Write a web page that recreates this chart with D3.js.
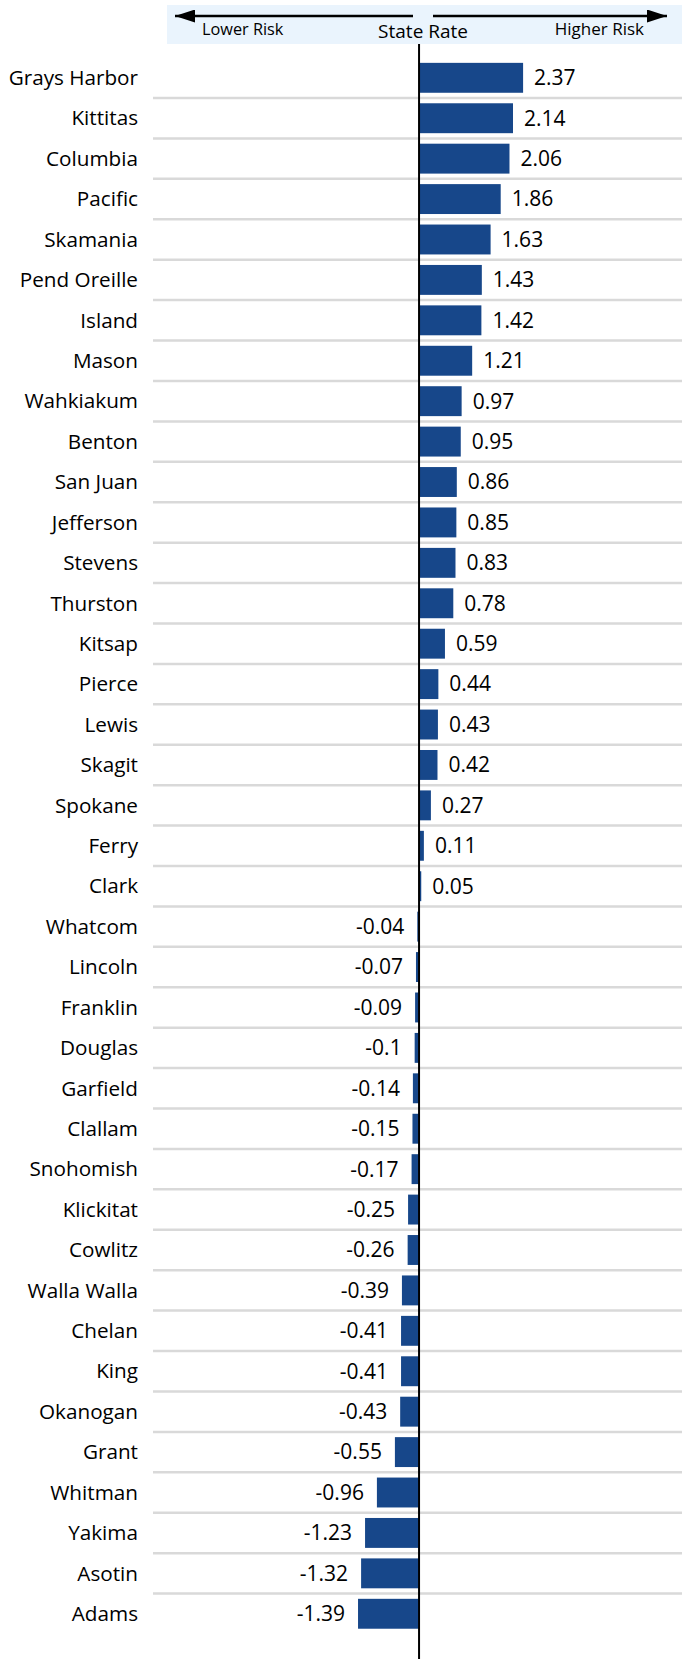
<!DOCTYPE html>
<html>
<head>
<meta charset="utf-8">
<script src="https://cdn.jsdelivr.net/npm/d3@7"></script>
<style>
  body { margin: 0; background: #fff; }
  text { font-family: "Open Sans", Lato, sans-serif; fill: #000; }
</style>
</head>
<body>
<div id="chart"></div>
<script>
// counties, top to bottom
const counties = [
  'Grays Harbor', 'Kittitas', 'Columbia', 'Pacific', 'Skamania', 'Pend Oreille',
  'Island', 'Mason', 'Wahkiakum', 'Benton', 'San Juan', 'Jefferson', 'Stevens',
  'Thurston', 'Kitsap', 'Pierce', 'Lewis', 'Skagit', 'Spokane', 'Ferry', 'Clark',
  'Whatcom', 'Lincoln', 'Franklin', 'Douglas', 'Garfield', 'Clallam', 'Snohomish',
  'Klickitat', 'Cowlitz', 'Walla Walla', 'Chelan', 'King', 'Okanogan', 'Grant',
  'Whitman', 'Yakima', 'Asotin', 'Adams'
];

// difference from state rate
const values = [
  2.37, 2.14, 2.06, 1.86, 1.63, 1.43,
  1.42, 1.21, 0.97, 0.95, 0.86, 0.85, 0.83,
  0.78, 0.59, 0.44, 0.43, 0.42, 0.27, 0.11, 0.05,
  -0.04, -0.07, -0.09, -0.1, -0.14, -0.15, -0.17,
  -0.25, -0.26, -0.39, -0.41, -0.41, -0.43, -0.55,
  -0.96, -1.23, -1.32, -1.39
];

const headerLabels = ['Lower Risk', 'State Rate', 'Higher Risk'];

const width = 682, height = 1659;
const rowTop = 57.6, rowH = 40.42;

const data = counties.map((c, i) => ({ county: c, value: values[i] }));

const svg = d3.select('#chart').append('svg')
  .attr('width', width)
  .attr('height', height);

const x = d3.scaleLinear()
  .domain([-1.5, 2.5])
  .range([353.2, 528.8]);

const y = d3.scaleBand()
  .domain(counties)
  .range([rowTop, rowTop + rowH * counties.length])
  .paddingInner(0.26)
  .paddingOuter(0.13);

// header band
svg.append('rect')
  .attr('x', 167).attr('y', 5)
  .attr('width', width - 167).attr('height', 39)
  .attr('fill', '#eaf4fd');

// arrows
const defs = svg.append('defs');
defs.append('marker')
  .attr('id', 'head')
  .attr('viewBox', '0 0 20 13')
  .attr('refX', 20).attr('refY', 6.5)
  .attr('markerWidth', 20).attr('markerHeight', 13)
  .attr('markerUnits', 'userSpaceOnUse')
  .attr('orient', 'auto')
  .append('path')
  .attr('d', 'M0,0 L20,6.5 L0,13 Z')
  .attr('fill', '#000');

svg.append('line')
  .attr('x1', 413).attr('x2', 175)
  .attr('y1', 16).attr('y2', 16)
  .attr('stroke', '#000').attr('stroke-width', 2.5)
  .attr('marker-end', 'url(#head)');

svg.append('line')
  .attr('x1', 433).attr('x2', 667)
  .attr('y1', 16).attr('y2', 16)
  .attr('stroke', '#000').attr('stroke-width', 2.5)
  .attr('marker-end', 'url(#head)');

svg.append('text')
  .attr('x', 202).attr('y', 35)
  .style('font-size', '16.3px')
  .text(headerLabels[0]);

svg.append('text')
  .attr('x', x(0) + 4).attr('y', 38)
  .attr('text-anchor', 'middle')
  .style('font-size', '19px')
  .text(headerLabels[1]);

svg.append('text')
  .attr('x', 644).attr('y', 35)
  .attr('text-anchor', 'end')
  .style('font-size', '17px')
  .text(headerLabels[2]);

// gridlines between rows
svg.append('g')
  .selectAll('line')
  .data(counties.slice(1))
  .join('line')
  .attr('x1', 153).attr('x2', width)
  .attr('y1', d => y(d) - y.step() * y.paddingInner() / 2)
  .attr('y2', d => y(d) - y.step() * y.paddingInner() / 2)
  .attr('stroke', '#d9d9d9')
  .attr('stroke-width', 2.5);

// bars
svg.append('g')
  .selectAll('rect')
  .data(data)
  .join('rect')
  .attr('x', d => x(Math.min(0, d.value)))
  .attr('y', d => y(d.county))
  .attr('width', d => Math.abs(x(d.value) - x(0)))
  .attr('height', y.bandwidth())
  .attr('fill', '#17478a');

// county labels
svg.append('g')
  .selectAll('text')
  .data(data)
  .join('text')
  .attr('x', 138)
  .attr('y', d => y(d.county) + y.bandwidth() / 2)
  .attr('dy', '0.35em')
  .attr('text-anchor', 'end')
  .style('font-size', '20.7px')
  .text(d => d.county);

// value labels
svg.append('g')
  .selectAll('text')
  .data(data)
  .join('text')
  .attr('x', d => d.value >= 0 ? x(d.value) + 11 : x(d.value) - 13)
  .attr('y', d => y(d.county) + y.bandwidth() / 2)
  .attr('dy', '0.35em')
  .attr('text-anchor', d => d.value >= 0 ? 'start' : 'end')
  .style('font-size', '21px')
  .text(d => d.value);

// state rate line
svg.append('line')
  .attr('x1', x(0)).attr('x2', x(0))
  .attr('y1', 44).attr('y2', height)
  .attr('stroke', '#000').attr('stroke-width', 2);
</script>
</body>
</html>
